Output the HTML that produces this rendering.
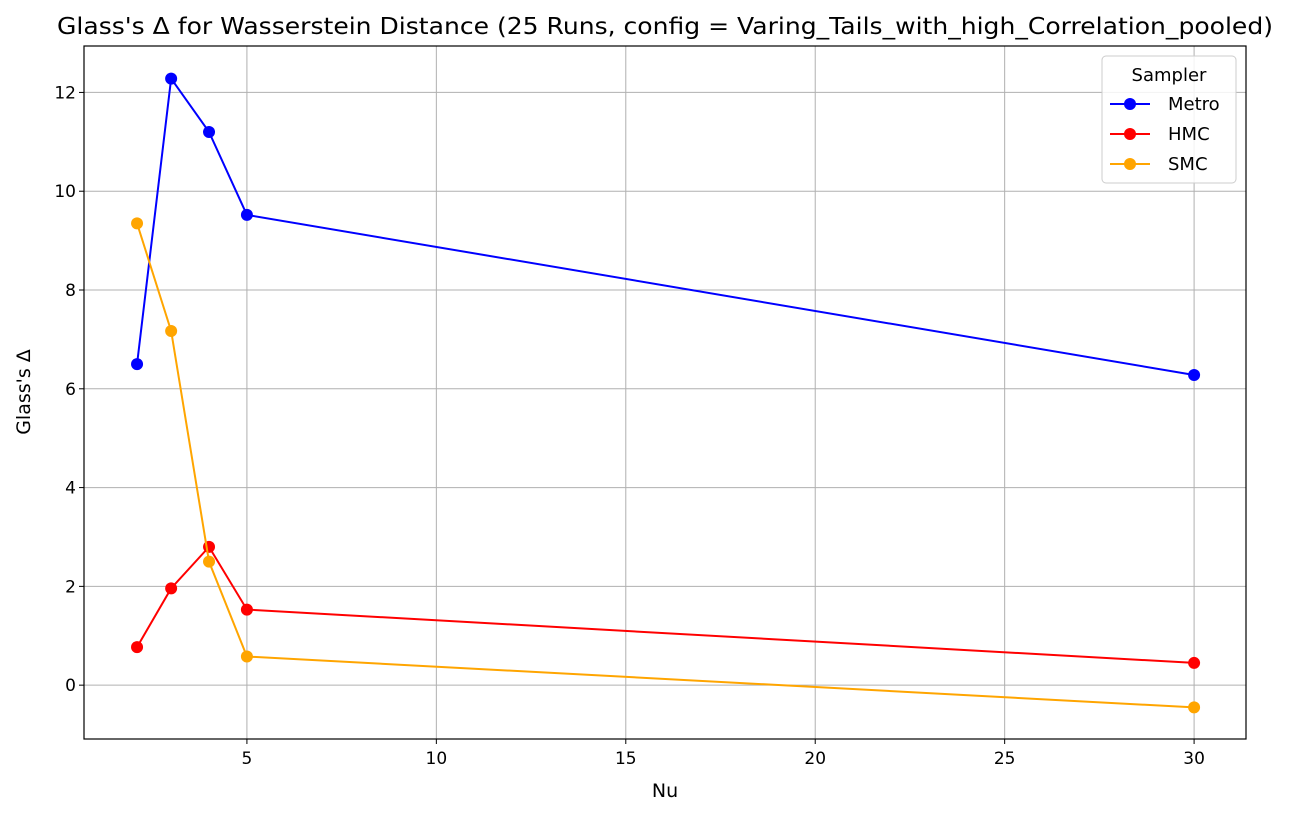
<!DOCTYPE html>
<html><head><meta charset="utf-8"><style>
body{margin:0;background:#fff;font-family:"Liberation Sans","DejaVu Sans",sans-serif}
svg text{font-family:"DejaVu Sans","Liberation Sans",sans-serif}
</style></head><body>
<svg id="chart" width="1289" height="817" xmlns="http://www.w3.org/2000/svg">
<rect width="1289" height="817" fill="#fff"/>
<g id="grid"></g>
<g id="series"></g>
<rect x="84" y="46" width="1162" height="693" fill="none" stroke="#000" stroke-width="1.2"/>
<g id="ticks"></g>
<text x="57" y="34" font-size="23.5" textLength="1216" lengthAdjust="spacingAndGlyphs">Glass's Δ for Wasserstein Distance (25 Runs, config = Varing_Tails_with_high_Correlation_pooled)</text>
<text x="665" y="797" font-size="19" text-anchor="middle">Nu</text>
<text transform="translate(30,392) rotate(-90)" font-size="19" text-anchor="middle">Glass's Δ</text>
<g>
<rect x="1102" y="56" width="134" height="127" rx="4" fill="#fff" fill-opacity="0.85" stroke="#ccc"/>
<text x="1169" y="81" font-size="18" text-anchor="middle">Sampler</text>
<g id="legend-items"></g>
</g>
</svg>
<script>
const nuValues=[2.1,3,4,5,30];
const seriesNames=['Metro','HMC','SMC'];
const metroValues=[6.5,12.28,11.2,9.52,6.28];
const hmcValues=[0.77,1.96,2.8,1.53,0.45];
const smcValues=[9.35,7.17,2.5,0.58,-0.45];
const xTicks=[5,10,15,20,25,30];
const yTicks=[0,2,4,6,8,10,12];
const colors=['#0000ff','#ff0000','#ffa500'];
const NS='http://www.w3.org/2000/svg';
const L=84,R=1246,T=46,B=739,xmin=0.7,xmax=31.37,ymin=-1.09,ymax=12.94;
const xs=v=>L+(v-xmin)/(xmax-xmin)*(R-L);
const ys=v=>B-(v-ymin)/(ymax-ymin)*(B-T);
function mk(tag,attrs,parent){const e=document.createElementNS(NS,tag);for(const k in attrs)e.setAttribute(k,attrs[k]);parent.appendChild(e);return e;}
const grid=document.getElementById('grid'),ticks=document.getElementById('ticks');
xTicks.forEach(t=>{const x=xs(t);
const g=mk('line',{x1:x,x2:x,y1:T,y2:B,stroke:'#b0b0b0','stroke-width':1},grid);


mk('line',{x1:x,x2:x,y1:B,y2:B+5,stroke:'#000'},ticks);
const tx=mk('text',{x:x,y:B+25,'font-size':17,'text-anchor':'middle'},ticks);tx.textContent=t;

});
yTicks.forEach(t=>{const y=ys(t);
const g=mk('line',{x1:L,x2:R,y1:y,y2:y,stroke:'#b0b0b0','stroke-width':1},grid);


mk('line',{x1:L-5,x2:L,y1:y,y2:y,stroke:'#000'},ticks);
const tx=mk('text',{x:L-8,y:y+6,'font-size':17,'text-anchor':'end'},ticks);tx.textContent=t;

});
const sg=document.getElementById('series');
[metroValues,hmcValues,smcValues].forEach((vals,i)=>{
const pl=mk('polyline',{points:vals.map((v,j)=>xs(nuValues[j])+','+ys(v)).join(' '),fill:'none',stroke:colors[i],'stroke-width':2},sg);


vals.forEach((v,j)=>{const c=mk('circle',{cx:xs(nuValues[j]),cy:ys(v),r:6,fill:colors[i]},sg);

});});
const li=document.getElementById('legend-items');
seriesNames.forEach((n,i)=>{const y=104+i*30;
mk('line',{x1:1110,x2:1150,y1:y,y2:y,stroke:colors[i],'stroke-width':2},li);
mk('circle',{cx:1130,cy:y,r:6,fill:colors[i]},li);
const t=mk('text',{x:1168,y:y+6,'font-size':18},li);t.textContent=n;

});
</script>
</body></html>
